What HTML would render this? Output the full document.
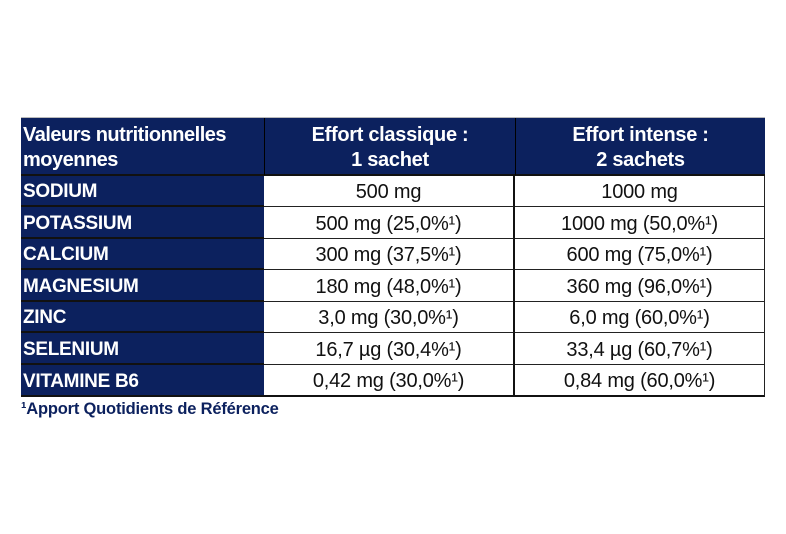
<!DOCTYPE html>
<html><head><meta charset="utf-8"><style>
body{margin:0;width:786px;height:534px;background:#fff;position:relative;font-family:"Liberation Sans",sans-serif;overflow:hidden}
.c{position:absolute;box-sizing:border-box;display:flex;align-items:center;font-size:20px;letter-spacing:-0.2px;white-space:nowrap;padding-top:3px}
.h{background:#0c215e;color:#fff;font-weight:bold;font-size:19px;letter-spacing:-0.3px}
.l{padding-left:2px}
.m{justify-content:center;text-align:center;color:#111;border-right:1px solid #222;border-bottom:1px solid #222}
.hc{justify-content:center;text-align:center;line-height:25px;font-size:20px}
.b{border-bottom:2px solid #111}
</style></head><body>
<div style="position:absolute;left:21px;top:117px;width:744px;height:1px;background:#bbb"></div>
<div class="c h l b" style="left:21px;top:118px;width:243px;height:58px;line-height:25px;font-size:20px;letter-spacing:-0.5px">Valeurs nutritionnelles<br>moyennes</div>
<div class="c h hc b" style="left:264px;top:118px;width:251px;height:58px;border-left:1px solid #000">Effort classique :<br>1 sachet</div>
<div class="c h hc b" style="left:515px;top:118px;width:250px;height:58px;border-left:1px solid #000">Effort intense :<br>2 sachets</div>

<div class="c h l b" style="left:21px;top:176px;width:243px;height:31px">SODIUM</div>
<div class="c m" style="left:264px;top:176px;width:251px;height:31px;border-right:2px solid #111">500 mg</div>
<div class="c m" style="left:515px;top:176px;width:250px;height:31px">1000 mg</div>

<div class="c h l b" style="left:21px;top:207px;width:243px;height:32px">POTASSIUM</div>
<div class="c m" style="left:264px;top:207px;width:251px;height:32px;border-right:2px solid #111">500 mg (25,0%¹)</div>
<div class="c m" style="left:515px;top:207px;width:250px;height:32px">1000 mg (50,0%¹)</div>

<div class="c h l b" style="left:21px;top:239px;width:243px;height:31px">CALCIUM</div>
<div class="c m" style="left:264px;top:239px;width:251px;height:31px;border-right:2px solid #111">300 mg (37,5%¹)</div>
<div class="c m" style="left:515px;top:239px;width:250px;height:31px">600 mg (75,0%¹)</div>

<div class="c h l b" style="left:21px;top:270px;width:243px;height:32px">MAGNESIUM</div>
<div class="c m" style="left:264px;top:270px;width:251px;height:32px;border-right:2px solid #111">180 mg (48,0%¹)</div>
<div class="c m" style="left:515px;top:270px;width:250px;height:32px">360 mg (96,0%¹)</div>

<div class="c h l b" style="left:21px;top:302px;width:243px;height:31px">ZINC</div>
<div class="c m" style="left:264px;top:302px;width:251px;height:31px;border-right:2px solid #111">3,0 mg (30,0%¹)</div>
<div class="c m" style="left:515px;top:302px;width:250px;height:31px">6,0 mg (60,0%¹)</div>

<div class="c h l b" style="left:21px;top:333px;width:243px;height:32px">SELENIUM</div>
<div class="c m" style="left:264px;top:333px;width:251px;height:32px;border-right:2px solid #111">16,7 µg (30,4%¹)</div>
<div class="c m" style="left:515px;top:333px;width:250px;height:32px">33,4 µg (60,7%¹)</div>

<div class="c h l" style="left:21px;top:365px;width:243px;height:32px;border-bottom:2px solid #111">VITAMINE B6</div>
<div class="c m" style="left:264px;top:365px;width:251px;height:32px;border-right:2px solid #111;border-bottom:2px solid #111">0,42 mg (30,0%¹)</div>
<div class="c m" style="left:515px;top:365px;width:250px;height:32px;border-bottom:2px solid #111">0,84 mg (60,0%¹)</div>

<div style="position:absolute;left:21px;top:400px;font-size:16.5px;font-weight:bold;color:#0c215e;letter-spacing:-0.2px">¹Apport Quotidients de Référence</div>
</body></html>
